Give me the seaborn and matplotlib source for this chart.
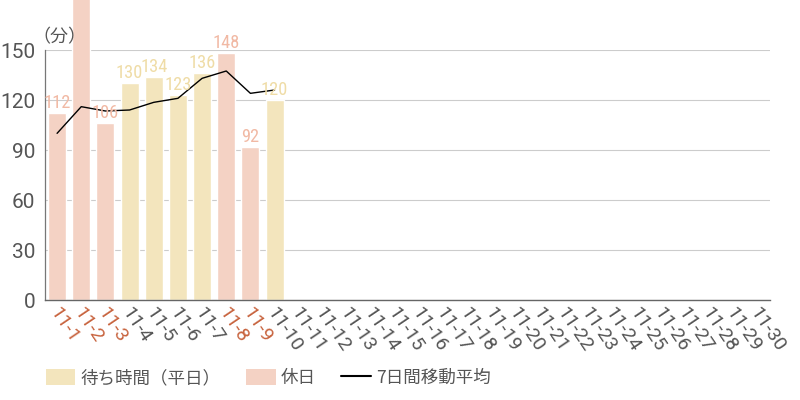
import matplotlib
matplotlib.use("Agg")
import matplotlib.pyplot as plt
import matplotlib.transforms as mtrans
from matplotlib import font_manager
import seaborn as sns
import pandas as pd
import numpy as np
from matplotlib.patches import Patch
from matplotlib.lines import Line2D

dates = [f"11-{d}" for d in range(1, 31)]
wait_values = [112, 190, 106, 130, 134, 123, 136, 148, 92, 120]
day_types = ["休日", "休日", "休日", "平日", "平日", "平日", "平日", "休日", "休日", "平日"]
moving_avg = [100, 116, 113.4, 114, 118.6, 121, 133, 137.4, 124, 126]
yticks = [0, 30, 60, 90, 120, 150]

C_WEEK = "#f3e5bd"
C_HOL = "#f4d2c4"
C_WEEK_TXT = "#efdca6"
C_HOL_TXT = "#f1b9a4"
C_RED = "#c8643f"
C_GRAY = "#555555"

sns.set_theme(style="white")
plt.rcParams["font.family"] = ["Roboto", "Noto Sans CJK JP", "DejaVu Sans"]

installed = {f.name for f in font_manager.fontManager.ttflist}
narrow = None
for cand in ["Roboto Condensed", "Liberation Sans Narrow", "Open Sans Condensed",
             "Noto Sans Condensed", "DejaVu Sans Condensed"]:
    if cand in installed:
        narrow = cand
        break
if narrow:
    lab_font, lab_size = [narrow], 13.2
else:
    lab_font, lab_size = ["Roboto"], 11.5

n = len(wait_values)
df = pd.DataFrame({
    "date": dates[:n],
    "value": wait_values,
    "type": day_types,
})
ma_df = pd.DataFrame({"pos": np.arange(n), "ma": moving_avg})

fig = plt.figure(figsize=(8, 4), dpi=100)
ax = fig.add_axes([0.05625, 0.25, 0.90625, 0.625])

sns.barplot(data=df, x="date", y="value", hue="type", order=dates,
            palette={"平日": C_WEEK, "休日": C_HOL}, dodge=False,
            width=0.75, ax=ax, legend=False, saturation=1)
for p in ax.patches:
    p.set_clip_on(False)

sns.lineplot(data=ma_df, x="pos", y="ma", color="black", lw=1.0, ax=ax)

for i, (v, t) in enumerate(zip(wait_values, day_types)):
    if v > 170:
        continue  # label lies above the visible canvas in the reference
    ax.text(i, v + 0.5, str(v), ha="center", va="bottom", fontsize=lab_size,
            color=C_HOL_TXT if t == "休日" else C_WEEK_TXT, clip_on=False,
            family=lab_font)

ax.set_ylim(0, 150)
ax.set_xlim(-0.5, 29.5)
ax.set_yticks(yticks)
ax.yaxis.grid(True, color="#cccccc", lw=0.8)
ax.set_axisbelow(True)
ax.set_xlabel("")
ax.set_ylabel("")
for s in ["top", "right"]:
    ax.spines[s].set_visible(False)
ax.spines["left"].set_color("#777777")
ax.spines["bottom"].set_color("#666666")
ax.spines["left"].set_linewidth(0.9)
ax.spines["bottom"].set_linewidth(1.0)
ax.tick_params(axis="y", length=0, labelsize=15, labelcolor=C_GRAY, pad=7)
ax.tick_params(axis="x", length=0, labelsize=14, pad=0)

ax.set_xticks(range(len(dates)))
ax.set_xticklabels(dates, rotation=-56, ha="left", va="center",
                   rotation_mode="anchor")
holidays = {d for d, t in zip(dates[:n], day_types) if t == "休日"}
for lbl in ax.get_xticklabels():
    lbl.set_color(C_RED if lbl.get_text() in holidays else C_GRAY)
    lbl.set_transform(lbl.get_transform() + mtrans.ScaledTranslation(-4/100, -9/100, fig.dpi_scale_trans))

fig.text(0.04, 0.907, "（分）", fontsize=13, color=C_GRAY, ha="left", va="center",
         family=["Noto Sans CJK JP"])

handles = [
    Patch(facecolor=C_WEEK, edgecolor="none", label="待ち時間（平日）"),
    Patch(facecolor=C_HOL, edgecolor="none", label="休日"),
    Line2D([0], [0], color="black", lw=1.5, label="7日間移動平均"),
]
leg = fig.legend(handles=handles, loc="center left", bbox_to_anchor=(0.057, 0.055),
                 ncol=3, frameon=False, handlelength=1.7,
                 handleheight=0.95, columnspacing=1.45, handletextpad=0.3,
                 borderaxespad=0, borderpad=0,
                 prop={"family": ["Noto Sans CJK JP"], "size": 12.6})
for t in leg.get_texts():
    t.set_color(C_GRAY)

fig.savefig("out.png", dpi=100)
